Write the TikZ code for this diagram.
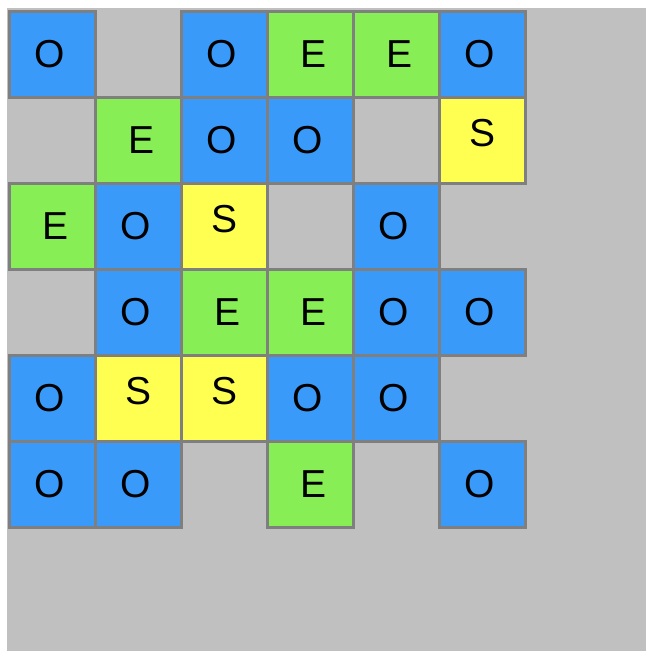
\documentclass[tikz,border=0pt]{standalone}
\usepackage{fontspec}
\setmainfont{Liberation Sans}
\definecolor{bgGray}{RGB}{192,192,192}
\definecolor{edgeGray}{RGB}{127,127,127}
\definecolor{cBlue}{RGB}{58,154,250}
\definecolor{cGreen}{RGB}{136,238,86}
\definecolor{cYellow}{RGB}{255,255,82}
\begin{document}
\begin{tikzpicture}[x=1pt,y=1pt,
  cell/.style={rectangle,draw=edgeGray,line width=3pt,minimum size=86pt,inner sep=0pt,outer sep=0pt},
  cellO/.style={fill=cBlue},
  cellE/.style={fill=cGreen},
  cellS/.style={fill=cYellow},
  txt/.style={inner sep=0pt,font=\fontsize{39}{39}\selectfont,text=black},
  txtO/.style={xshift=-3pt},
  txtE/.style={xshift=3pt},
  txtS/.style={yshift=7pt}]
\useasboundingbox (0,0) rectangle (646,-651);
\fill[bgGray] (7,-8) rectangle (646,-651);
\foreach \c/\r/\l in {0/0/O,2/0/O,3/0/E,4/0/E,5/0/O,
                      1/1/E,2/1/O,3/1/O,5/1/S,
                      0/2/E,1/2/O,2/2/S,4/2/O,
                      1/3/O,2/3/E,3/3/E,4/3/O,5/3/O,
                      0/4/O,1/4/S,2/4/S,3/4/O,4/4/O,
                      0/5/O,1/5/O,3/5/E,5/5/O}{
  \node[cell,cell\l] (c\c\r) at ({52.5+86*\c},{-54.5-86*\r}) {};
  \node[txt,txt\l] (t\c\r) at (c\c\r) {\l};
}
\end{tikzpicture}
\end{document}
